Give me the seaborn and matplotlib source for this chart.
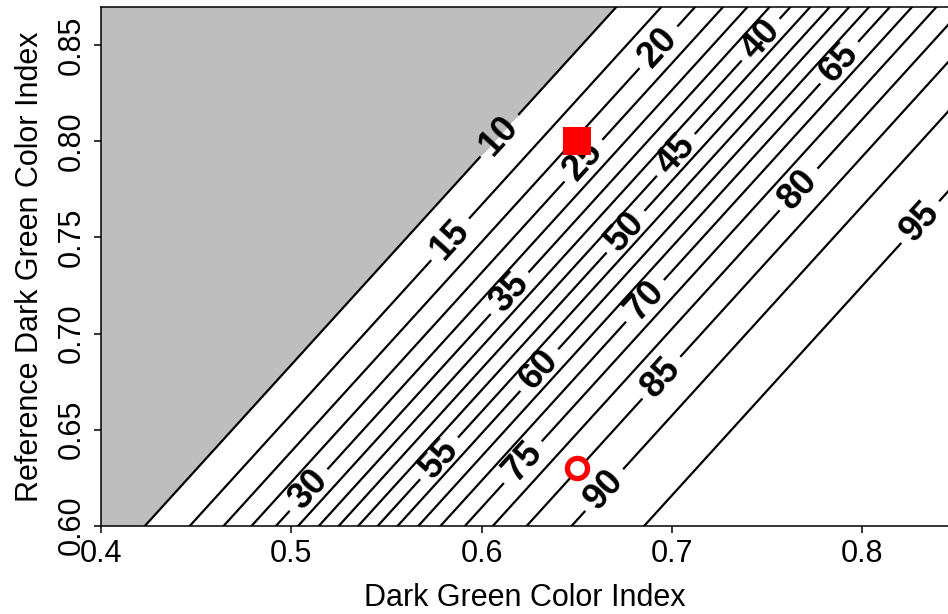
import numpy as np
import pandas as pd
import matplotlib
matplotlib.use("Agg")
import matplotlib.pyplot as plt
import seaborn as sns

# Logistic response surface: percent = 100 / (1 + exp(-(b0 + b1*DGCI + b2*refDGCI)))
INTERCEPT = 0.29
COEF_DGCI = 19.6
COEF_REF = -17.97

# Contour levels (percent)
levels = [10, 15, 20, 25, 30, 35, 40, 45, 50, 55, 60, 65, 70, 75, 80, 85, 90, 95]

# Highlighted observations
obs_dgci = [0.65, 0.65]
obs_ref = [0.80, 0.63]
obs_kind = ["square", "circle"]

# Reference-index height at which each contour carries its label
label_ref_y = [0.803, 0.749, 0.849, 0.790, 0.6185, 0.721, 0.853, 0.793, 0.753,
               0.635, 0.681, 0.841, 0.717, 0.633, 0.775, 0.677, 0.6185, 0.758]

sns.set_style("ticks")
plt.rcParams["font.family"] = ["Liberation Sans", "DejaVu Sans"]
plt.rcParams["axes.linewidth"] = 1.1
plt.rcParams["text.color"] = "black"
plt.rcParams["axes.labelcolor"] = "black"

W, H = 948, 614
fig = plt.figure(figsize=(W / 100, H / 100), dpi=100)
ax = fig.add_axes([101 / W, 1 - 525.6 / H, 1 - 101 / W, (525.6 - 7) / H])

gx = np.linspace(0.38, 0.87, 600)
gy = np.linspace(0.58, 0.89, 600)
X, Y = np.meshgrid(gx, gy)
Z = 100.0 / (1.0 + np.exp(-(INTERCEPT + COEF_DGCI * X + COEF_REF * Y)))

ax.set_xlim(0.40, 0.845)
ax.set_ylim(0.60, 0.87)

# shaded region below the lowest contour
ax.contourf(X, Y, Z, levels=[0, levels[0]], colors=["#BEBEBE"])
cs = ax.contour(X, Y, Z, levels=levels, colors="black", linewidths=1.6)

positions = []
for lev, ly in zip(levels, label_ref_y):
    logit = np.log(lev / (100.0 - lev))
    lx = (logit - INTERCEPT - COEF_REF * ly) / COEF_DGCI
    positions.append((lx, ly))

with plt.rc_context({"font.weight": "bold"}):
    labels = ax.clabel(cs, levels=levels, manual=positions, inline=True,
                       fontsize=26, fmt="%d", inline_spacing=8)
for t in labels:
    t.set_fontweight("bold")
    t.set_color("black")

pts = pd.DataFrame({"dgci": obs_dgci, "ref": obs_ref, "kind": obs_kind})
sq = pts[pts.kind == "square"]
ci = pts[pts.kind == "circle"]
sns.scatterplot(data=sq, x="dgci", y="ref", marker="s", s=20 ** 2,
                color="#FF0000", linewidth=0, ax=ax, zorder=5, legend=False)
sns.scatterplot(data=ci, x="dgci", y="ref", marker="o", s=14.5 ** 2,
                facecolor="white", edgecolor="#FF0000", linewidth=3.8,
                ax=ax, zorder=5, legend=False)

ax.set_xticks([0.4, 0.5, 0.6, 0.7, 0.8])
ax.set_xticklabels(["0.4", "0.5", "0.6", "0.7", "0.8"])
ax.set_yticks([0.60, 0.65, 0.70, 0.75, 0.80, 0.85])
ax.set_yticklabels(["0.60", "0.65", "0.70", "0.75", "0.80", "0.85"])
ax.tick_params(axis="both", direction="out", length=5, width=1.1,
               labelsize=22, pad=5, colors="black")
ax.tick_params(axis="y", labelrotation=90)
for lbl in ax.get_yticklabels():
    lbl.set_va("center")

for side in ["left", "bottom", "top"]:
    ax.spines[side].set_visible(True)
    ax.spines[side].set_color("black")
ax.spines["right"].set_visible(False)

ax.set_xlabel("Dark Green Color Index", fontsize=22, labelpad=10, color="black")
ax.set_ylabel("Reference Dark Green Color Index", fontsize=22, labelpad=9,
              color="black")

fig.savefig("out.png", dpi=100)
